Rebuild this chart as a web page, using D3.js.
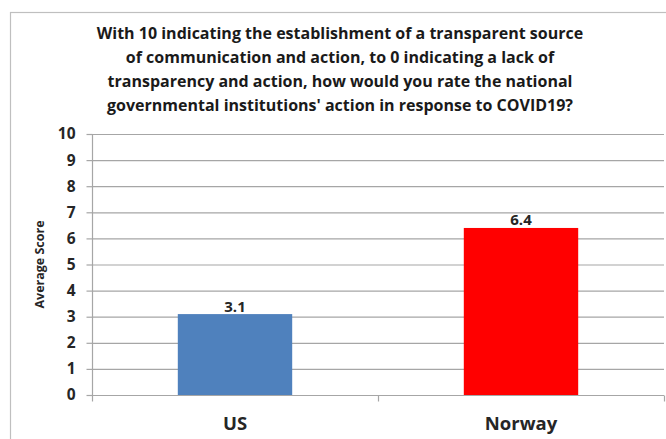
<!DOCTYPE html>
<html>
<head>
<meta charset="utf-8">
<script src="https://cdn.jsdelivr.net/npm/d3@7"></script>
<style>
  html, body { margin: 0; padding: 0; background: #fff; }
  svg { display: block; }
  text { font-family: "Open Sans", "Lato", sans-serif; }
</style>
</head>
<body>
<svg id="chart" width="666" height="439"></svg>
<script>
// Survey results: average transparency rating by country
const countries = ["US", "Norway"];
const averageScores = [3.1, 6.4];
const barColors = ["#4f81bd", "#ff0000"];
const scoreTicks = [0, 1, 2, 3, 4, 5, 6, 7, 8, 9, 10];
const titleLines = [
  "With 10 indicating the establishment of a transparent source",
  "of communication and action, to 0 indicating a lack of",
  "transparency and action, how would you rate the national",
  "governmental institutions' action in response to COVID19?"
];
const yAxisTitle = "Average Score";

const svg = d3.select("#chart");
const W = 666, H = 439;
const plot = { left: 92, right: 664, top: 134, bottom: 395 };

// outer chart frame
svg.append("rect")
  .attr("x", 10.5).attr("y", 12.5)
  .attr("width", W + 20).attr("height", H + 20)
  .attr("fill", "#fff")
  .attr("stroke", "#bfbfbf").attr("stroke-width", 1.2);

// title
const title = svg.append("text")
  .attr("text-anchor", "middle")
  .attr("font-size", 16)
  .attr("font-weight", 700)
  .attr("fill", "#1a1a1a");
titleLines.forEach((line, i) => {
  title.append("tspan").attr("x", 340).attr("y", 39 + i * 24).text(line);
});

const x = d3.scaleBand()
  .domain(countries)
  .range([plot.left, plot.right])
  .paddingInner(0.6)
  .paddingOuter(0.3);

const y = d3.scaleLinear()
  .domain([0, 10])
  .range([plot.bottom, plot.top]);

// horizontal gridlines
svg.append("g")
  .selectAll("line")
  .data(scoreTicks)
  .join("line")
  .attr("x1", plot.left).attr("x2", plot.right)
  .attr("y1", d => y(d) + 0.5).attr("y2", d => y(d) + 0.5)
  .attr("stroke", "#a6a6a6").attr("stroke-width", 1.2);

// y axis
const yAxis = svg.append("g")
  .attr("transform", `translate(${plot.left + 0.5},0)`)
  .call(d3.axisLeft(y).tickValues(scoreTicks).tickSize(6).tickPadding(11).tickFormat(d3.format("d")));
yAxis.select(".domain").attr("stroke", "#a6a6a6").attr("stroke-width", 1.2)
  .attr("d", `M0,${plot.top}V${plot.bottom + 0.5}`);
yAxis.selectAll(".tick line").attr("stroke", "#a6a6a6").attr("stroke-width", 1.2);
yAxis.selectAll(".tick text")
  .attr("font-family", "'Open Sans', sans-serif")
  .attr("font-size", 15.5).attr("font-weight", 700).attr("fill", "#262626");

// x axis with tick marks on category boundaries
const xAxis = svg.append("g")
  .attr("transform", `translate(0,${plot.bottom + 0.5})`);
xAxis.append("line")
  .attr("x1", plot.left).attr("x2", plot.right)
  .attr("stroke", "#a6a6a6").attr("stroke-width", 1.2);
const boundaries = [plot.left, (x("US") + x("Norway") + x.bandwidth()) / 2, plot.right];
xAxis.selectAll("line.tk")
  .data(boundaries)
  .join("line").attr("class", "tk")
  .attr("x1", d => d + 0.5).attr("x2", d => d + 0.5)
  .attr("y1", 0).attr("y2", 6)
  .attr("stroke", "#a6a6a6").attr("stroke-width", 1.2);
xAxis.selectAll("text")
  .data(countries)
  .join("text")
  .attr("x", d => x(d) + x.bandwidth() / 2)
  .attr("y", 34)
  .attr("text-anchor", "middle")
  .attr("font-size", 18.5).attr("font-weight", 700).attr("fill", "#262626")
  .text(d => d);

// bars
svg.append("g")
  .selectAll("rect")
  .data(countries)
  .join("rect")
  .attr("x", d => x(d))
  .attr("y", (d, i) => y(averageScores[i]))
  .attr("width", x.bandwidth())
  .attr("height", (d, i) => y(0) - y(averageScores[i]))
  .attr("fill", (d, i) => barColors[i]);

// value labels
svg.append("g")
  .selectAll("text")
  .data(countries)
  .join("text")
  .attr("x", d => x(d) + x.bandwidth() / 2)
  .attr("y", (d, i) => y(averageScores[i]) - 2.5)
  .attr("text-anchor", "middle")
  .attr("font-size", 15).attr("font-weight", 700).attr("fill", "#262626")
  .text((d, i) => d3.format(".1f")(averageScores[i]));

// y axis title
svg.append("text")
  .attr("transform", `translate(44,${(plot.top + plot.bottom) / 2}) rotate(-90)`)
  .attr("text-anchor", "middle")
  .attr("font-size", 12.5).attr("font-weight", 700).attr("fill", "#262626")
  .text(yAxisTitle);
</script>
</body>
</html>
